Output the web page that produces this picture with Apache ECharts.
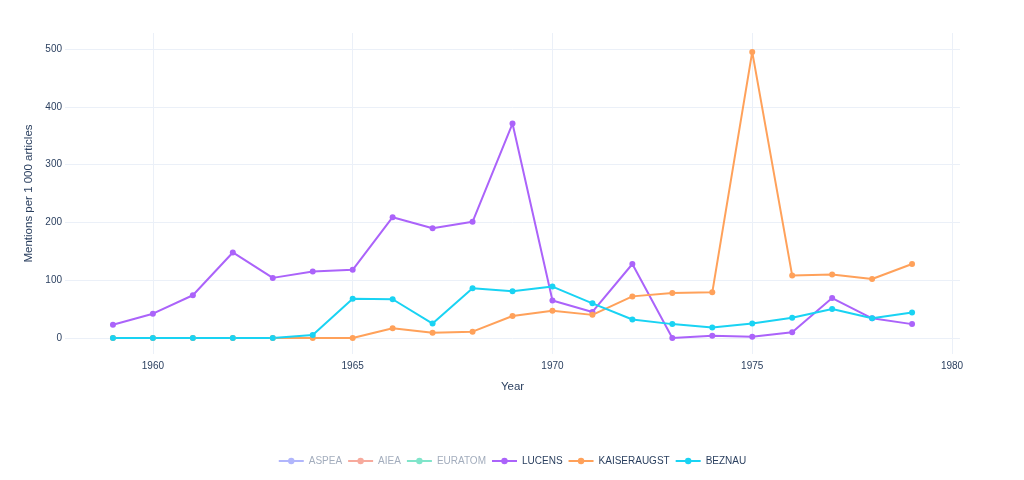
<!DOCTYPE html>
<html>
<head>
<meta charset="utf-8">
<script src="https://cdn.jsdelivr.net/npm/echarts@6/dist/echarts.min.js"></script>
<style>
  html, body { margin: 0; padding: 0; background: #fff; }
  #chart { width: 1024px; height: 480px; }
</style>
</head>
<body>
<div id="chart"></div>
<script>
// 数据
const years = [1959, 1960, 1961, 1962, 1963, 1964, 1965, 1966, 1967, 1968, 1969,
               1970, 1971, 1972, 1973, 1974, 1975, 1976, 1977, 1978, 1979];
const lucens = [23, 42, 74, 148, 104, 115, 118, 209, 190, 201, 371,
                65, 45, 128, 0, 4, 2, 10, 69, 34, 24];
const kaiseraugst = [0, 0, 0, 0, 0, 0, 0, 17, 9, 11, 38,
                     47, 40, 72, 78, 79, 495, 108, 110, 102, 128];
const beznau = [0, 0, 0, 0, 0, 5, 68, 67, 25, 86, 81,
                89, 60, 32, 24, 18, 25, 35, 50, 34, 44];
const xTicks = [1960, 1965, 1970, 1975, 1980];
const yTicks = [0, 100, 200, 300, 400, 500];

// 隐藏的系列（图例里淡色显示）
const hiddenNames = ['ASPEA', 'AIEA', 'EURATOM'];
const hiddenColors = ['#b1b6fc', '#f7aa9d', '#80e5ca'];

const pair = (arr) => years.map((y, i) => [y, arr[i]]);

const textColor = '#2a3f5f';
const gridColor = '#ebf0f8';
const font = 'Arial, "Liberation Sans", sans-serif';

function lineSeries(name, color, data) {
    return {
        name: name,
        type: 'line',
        data: data,
        symbol: 'circle',
        symbolSize: 6,
        lineStyle: { width: 2, color: color },
        itemStyle: { color: color },
        emphasis: { disabled: true }
    };
}

let series = hiddenNames.map((n, i) => lineSeries(n, hiddenColors[i], []));
series.push(lineSeries('LUCENS', '#ab63fa', pair(lucens)));
series.push(lineSeries('KAISERAUGST', '#ffa15a', pair(kaiseraugst)));
series.push(lineSeries('BEZNAU', '#19d3f3', pair(beznau)));

let legendData = hiddenNames.map(n => ({ name: n, textStyle: { color: '#a3adbd' } }));
legendData.push('LUCENS', 'KAISERAUGST', 'BEZNAU');

let myChart = echarts.init(document.getElementById('chart'));
let option = {
    animation: false,
    textStyle: { fontFamily: font },
    grid: { left: 65, right: 64, top: 33, bottom: 126, containLabel: false },
    legend: {
        top: 451,
        left: 'center',
        itemWidth: 25,
        itemHeight: 8,
        itemGap: 5,
        data: legendData,
        textStyle: { color: textColor, fontSize: 10, fontFamily: font }
    },
    xAxis: {
        type: 'value',
        min: 1957.8,
        max: 1980.2,
        name: 'Year',
        nameLocation: 'middle',
        nameGap: 27,
        nameTextStyle: { color: textColor, fontSize: 11.5 },
        axisLine: { show: false },
        axisTick: { show: false, customValues: xTicks },
        axisLabel: {
            customValues: xTicks, color: textColor, fontSize: 10, margin: 7,
            formatter: v => String(v)
        },
        splitLine: { show: true, lineStyle: { color: gridColor, width: 1 } }
    },
    yAxis: {
        type: 'value',
        min: -27.7,
        max: 527.7,
        name: 'Mentions per 1 000 articles',
        nameLocation: 'middle',
        nameGap: 30,
        nameTextStyle: { color: textColor, fontSize: 11.5 },
        axisLine: { show: false },
        axisTick: { show: false, customValues: yTicks },
        axisLabel: { customValues: yTicks, color: textColor, fontSize: 10, margin: 3 },
        splitLine: { show: true, lineStyle: { color: gridColor, width: 1 } }
    },
    series: series
};
myChart.setOption(option);
</script>
</body>
</html>
